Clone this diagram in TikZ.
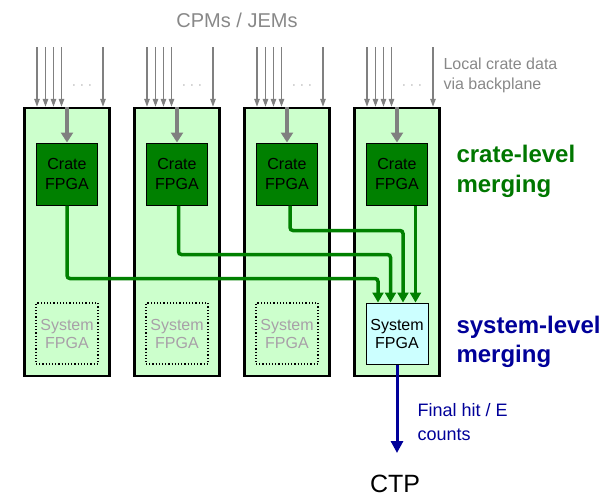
\documentclass[tikz,border=0pt]{standalone}
\usepackage{fontspec}
\setmainfont{Liberation Sans}
\usetikzlibrary{arrows.meta}
\definecolor{cratefill}{HTML}{CCFFCC}
\definecolor{fpgagreen}{HTML}{008000}
\definecolor{sysfill}{HTML}{CCFFFF}
\definecolor{navy}{HTML}{000099}
\definecolor{labelgray}{HTML}{888888}
\definecolor{ghost}{HTML}{A8A0A8}
\definecolor{titlegreen}{HTML}{007700}
\definecolor{feedgray}{HTML}{808080}
\begin{document}
\begin{tikzpicture}[x=1pt,y=-1pt,
  crate/.style={draw=black, line width=2.5pt, fill=cratefill,
    minimum width=85pt, minimum height=268pt, inner sep=0pt},
  cfpga/.style={draw=black, line width=1pt, fill=fpgagreen, text=black,
    minimum width=61pt, minimum height=62pt, inner sep=0pt, align=center,
    font=\fontsize{16}{20}\selectfont},
  ghostfpga/.style={draw=black, dotted, line width=1.2pt,
    minimum width=62pt, minimum height=61pt, inner sep=0pt, align=center,
    text=ghost, font=\fontsize{16}{18}\selectfont},
  sysfpga/.style={draw=black, line width=1pt, fill=sysfill, text=black,
    minimum width=62pt, minimum height=61pt, inner sep=0pt, align=center,
    font=\fontsize{16}{18}\selectfont},
  feed/.style={draw=feedgray, line width=1.4pt,
    -{Triangle[length=8pt,width=5.5pt]}},
  gfeed/.style={draw=feedgray, line width=3.5pt,
    -{Triangle[length=10pt,width=12pt]}},
  link/.style={draw=fpgagreen, line width=3.5pt, rounded corners=3pt,
    -{Triangle[length=10pt,width=11pt]}},
  result/.style={draw=navy, line width=3pt,
    -{Triangle[length=12pt,width=12pt]}},
  dots/.style={text=feedgray, font=\fontsize{12}{14}\selectfont, inner sep=0pt},
]
\useasboundingbox (0,0) rectangle (614,499);

% crates with their crate-level FPGAs and backplane inputs
\foreach \i in {1,...,4} {
  \pgfmathsetmacro\cx{67+110*(\i-1)}
  \node[crate] (crate\i) at (\cx,242) {};
  \node[cfpga] (cf\i) at (\cx,174) {Crate\\FPGA};
  \foreach \k/\dx in {a/13.5,b/22,c/30,d/38,e/79.5} {
    \coordinate (in\i\k) at (\cx-43.5+\dx,47);
    \draw[feed] (in\i\k) -- (in\i\k |- crate\i.north);
  }
  \node[dots] (dots\i) at (\cx+15,86) {$\cdot\,\cdot\,\cdot$};
  \draw[gfeed] (crate\i.north -| cf\i) -- (cf\i.north);
}

% unused system FPGA positions
\foreach \i in {1,2,3} {
  \pgfmathsetmacro\cx{67+110*(\i-1)}
  \node[ghostfpga] (gf\i) at (\cx,333.5) {System\\FPGA};
}

% system FPGA in the last crate
\node[sysfpga] (sys) at (397,333.5) {System\\FPGA};

% crate-level results routed to the system FPGA
\draw[link] (cf1.south) -- ++(0,73) -| ([xshift=-19pt]sys.north);
\draw[link] ([xshift=1.5pt]cf2.south) -- ++(0,49) -| ([xshift=-6.5pt]sys.north);
\draw[link] ([xshift=3pt]cf3.south) -- ++(0,25) -| ([xshift=6pt]sys.north);
\draw[link] ([xshift=18.5pt]cf4.south) -- ([xshift=18.5pt]sys.north);

% output to the CTP
\node[font=\fontsize{25}{28}\selectfont, inner sep=0pt] (ctp) at (395,484) {CTP};
\coordinate (ctpin) at (397,453);
\draw[result] (sys.south -| ctpin) -- (ctpin);

% labels
\node[text=labelgray, font=\fontsize{20}{24}\selectfont] (title) at (237,20) {CPMs / JEMs};
\node[text=labelgray, anchor=west, align=left, font=\fontsize{16}{20}\selectfont]
  (local) at (440,75) {Local crate data\\via backplane};
\node[text=titlegreen, anchor=west, align=left, font=\fontsize{24}{30}\bfseries]
  (cratelvl) at (453,171) {crate-level\\merging};
\node[text=navy, anchor=west, align=left, font=\fontsize{24}{29}\bfseries]
  (syslvl) at (453,342) {system-level\\merging};
\node[text=navy, anchor=west, align=left, font=\fontsize{18}{24}\selectfont]
  (final) at (414,422) {Final hit / E\\counts};
\end{tikzpicture}
\end{document}
